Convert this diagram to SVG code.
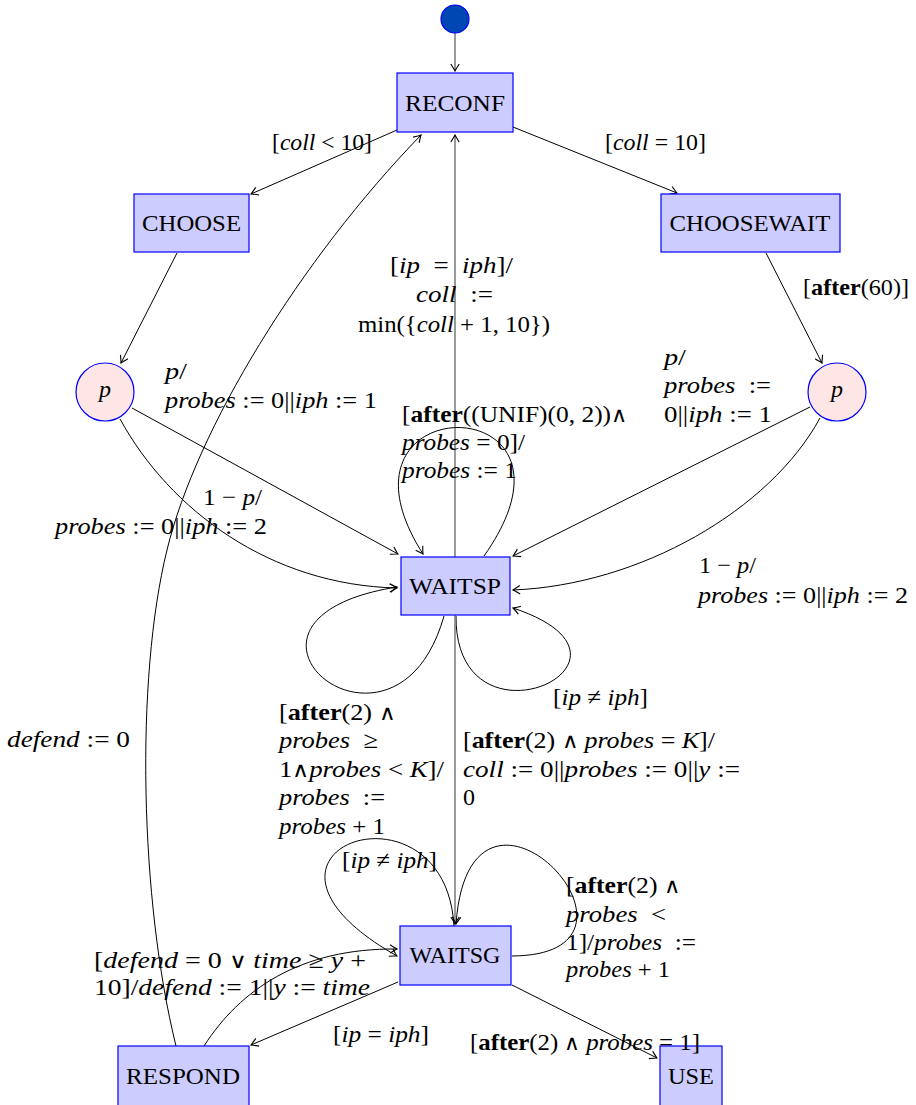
<svg xmlns="http://www.w3.org/2000/svg" width="916" height="1105" viewBox="0 0 916 1105">
<style>
.t{font-family:"Liberation Serif","DejaVu Serif",serif;font-size:24px;fill:#000}
.m{text-anchor:middle}
.i{font-style:italic}
.b{font-weight:bold}
.o{font-family:"DejaVu Sans",sans-serif;font-weight:200;font-size:21px}
.st rect{fill:#ccccff;stroke:#0000ff;stroke-width:1.2}
.ch circle{fill:#ffe6e6;stroke:#0000ff;stroke-width:1.2}
.e{fill:none;stroke:#000;stroke-width:1;marker-end:url(#arr)}
.g{fill:none;stroke:#808080;stroke-width:1.6;marker-end:url(#arr)}
</style>
<defs>
<marker id="arr" viewBox="-8 -6 10 12" refX="0" refY="0" markerWidth="10" markerHeight="12" orient="auto" markerUnits="userSpaceOnUse">
<path d="M-7,-4.2 Q-2,-1 0,0 Q-2,1 -7,4.2" fill="none" stroke="#000" stroke-width="1.1"/>
</marker>
</defs>
<rect width="916" height="1105" fill="#fff"/>
<g id="connectors">
<path class="g" d="M455,33 L455,71"/>
<path class="e" d="M397,130 L251,194"/>
<path class="e" d="M513,127 L677,193"/>
<path class="e" d="M177,253 L121,363"/>
<path class="e" d="M766,253 L822,363"/>
<path class="e" d="M132,408 L398,554"/>
<path class="e" d="M120,419 C170,510 270,585 397,588"/>
<path class="e" d="M810,407 L513,556"/>
<path class="e" d="M820,418 C770,510 640,585 513,590"/>
<path class="g" d="M455,557 L455,135"/>
<path class="e" d="M484,556 C605,385 315,385 423,554"/>
<path class="e" d="M444,616 C395,790 190,620 397,587"/>
<path class="e" d="M456,616 C455,760 670,660 513,608"/>
<path class="g" d="M455,615 L455,924"/>
<path class="e" d="M454,926 C445,770 210,850 397,956"/>
<path class="e" d="M512,956 C680,955 470,730 456,924"/>
<path class="e" d="M398,982 L251,1045"/>
<path class="e" d="M512,985 L657,1058"/>
<path class="e" d="M204,1046 C240,990 300,948 397,949"/>
<path class="e" d="M176,1046 C140,900 135,680 167,550 C196,430 300,260 421,135"/>
</g>
<g id="init"><circle cx="455" cy="19" r="14" fill="#0047b3" stroke="#0000ff" stroke-width="1.2"/></g>
<g id="RECONF" class="st"><rect x="397" y="73" width="116" height="59"/><text class="t m" x="455" y="111" textLength="100" lengthAdjust="spacingAndGlyphs">RECONF</text></g>
<g id="CHOOSE" class="st"><rect x="134" y="194" width="115" height="58"/><text class="t m" x="191.5" y="231" textLength="99" lengthAdjust="spacingAndGlyphs">CHOOSE</text></g>
<g id="CHOOSEWAIT" class="st"><rect x="661" y="194" width="179" height="58"/><text class="t m" x="750" y="231" textLength="161" lengthAdjust="spacingAndGlyphs">CHOOSEWAIT</text></g>
<g id="pL" class="ch"><circle cx="105" cy="392" r="29"/><text class="t m i" x="105" y="397">p</text></g>
<g id="pR" class="ch"><circle cx="837" cy="392" r="29"/><text class="t m i" x="837" y="397">p</text></g>
<g id="WAITSP" class="st"><rect x="401" y="557" width="109" height="58"/><text class="t m" x="455" y="594" textLength="92" lengthAdjust="spacingAndGlyphs">WAITSP</text></g>
<g id="WAITSG" class="st"><rect x="400" y="926" width="111" height="59"/><text class="t m" x="455" y="963" textLength="91" lengthAdjust="spacingAndGlyphs">WAITSG</text></g>
<g id="RESPOND" class="st"><rect x="118" y="1046" width="131" height="60"/><text class="t m" x="183" y="1084" textLength="114" lengthAdjust="spacingAndGlyphs">RESPOND</text></g>
<g id="USE" class="st"><rect x="660" y="1046" width="62" height="60"/><text class="t m" x="691" y="1084" textLength="46" lengthAdjust="spacingAndGlyphs">USE</text></g>
<g id="labels">
<text class="t" x="272" y="150" textLength="100" lengthAdjust="spacingAndGlyphs">[<tspan class="i">coll</tspan> &lt; 10]</text>
<text class="t" x="605" y="150" textLength="101" lengthAdjust="spacingAndGlyphs">[<tspan class="i">coll</tspan> = 10]</text>
<text class="t" x="803" y="295" textLength="106" lengthAdjust="spacingAndGlyphs">[<tspan class="b">after</tspan>(60)]</text>
<text class="t" x="165" y="379" textLength="22" lengthAdjust="spacingAndGlyphs"><tspan class="i">p</tspan>/</text>
<text class="t" x="165" y="408" textLength="212" lengthAdjust="spacingAndGlyphs"><tspan class="i">probes</tspan> := 0||<tspan class="i">iph</tspan> := 1</text>
<text class="t" x="203" y="505" textLength="59" lengthAdjust="spacingAndGlyphs">1 − <tspan class="i">p</tspan>/</text>
<text class="t" x="55" y="534" textLength="212" lengthAdjust="spacingAndGlyphs"><tspan class="i">probes</tspan> := 0||<tspan class="i">iph</tspan> := 2</text>
<text class="t" x="664" y="365" textLength="22" lengthAdjust="spacingAndGlyphs"><tspan class="i">p</tspan>/</text>
<text class="t" x="664" y="393" xml:space="preserve" textLength="107" lengthAdjust="spacingAndGlyphs"><tspan class="i">probes</tspan>  :=</text>
<text class="t" x="664" y="422" textLength="108" lengthAdjust="spacingAndGlyphs">0||<tspan class="i">iph</tspan> := 1</text>
<text class="t" x="699" y="573" textLength="57" lengthAdjust="spacingAndGlyphs">1 − <tspan class="i">p</tspan>/</text>
<text class="t" x="698" y="603" textLength="210" lengthAdjust="spacingAndGlyphs"><tspan class="i">probes</tspan> := 0||<tspan class="i">iph</tspan> := 2</text>
<text class="t" x="390" y="273" xml:space="preserve" textLength="123" lengthAdjust="spacingAndGlyphs">[<tspan class="i">ip</tspan>  =  <tspan class="i">iph</tspan>]/</text>
<text class="t" x="416" y="302" xml:space="preserve" textLength="77" lengthAdjust="spacingAndGlyphs"><tspan class="i">coll</tspan>  :=</text>
<text class="t" x="358" y="332" textLength="192" lengthAdjust="spacingAndGlyphs">min({<tspan class="i">coll</tspan> + 1, 10})</text>
<text class="t" x="402" y="422" textLength="225" lengthAdjust="spacingAndGlyphs">[<tspan class="b">after</tspan>((UNIF)(0, 2))<tspan class="o">∧</tspan></text>
<text class="t" x="402" y="450" textLength="123" lengthAdjust="spacingAndGlyphs"><tspan class="i">probes</tspan> = 0]/</text>
<text class="t" x="402" y="478" textLength="115" lengthAdjust="spacingAndGlyphs"><tspan class="i">probes</tspan> := 1</text>
<text class="t" x="553" y="705" textLength="95" lengthAdjust="spacingAndGlyphs">[<tspan class="i">ip</tspan> ≠ <tspan class="i">iph</tspan>]</text>
<text class="t" x="279" y="720" textLength="116" lengthAdjust="spacingAndGlyphs">[<tspan class="b">after</tspan>(2) <tspan class="o">∧</tspan></text>
<text class="t" x="279" y="748" xml:space="preserve" textLength="99" lengthAdjust="spacingAndGlyphs"><tspan class="i">probes</tspan>  ≥</text>
<text class="t" x="279" y="777" textLength="165" lengthAdjust="spacingAndGlyphs">1<tspan class="o">∧</tspan><tspan class="i">probes</tspan> &lt; <tspan class="i">K</tspan>]/</text>
<text class="t" x="279" y="805" xml:space="preserve" textLength="106" lengthAdjust="spacingAndGlyphs"><tspan class="i">probes</tspan>  :=</text>
<text class="t" x="279" y="834" textLength="106" lengthAdjust="spacingAndGlyphs"><tspan class="i">probes</tspan> + 1</text>
<text class="t" x="463" y="748" textLength="252" lengthAdjust="spacingAndGlyphs">[<tspan class="b">after</tspan>(2) <tspan class="o">∧</tspan> <tspan class="i">probes</tspan> = <tspan class="i">K</tspan>]/</text>
<text class="t" x="463" y="777" textLength="277" lengthAdjust="spacingAndGlyphs"><tspan class="i">coll</tspan> := 0||<tspan class="i">probes</tspan> := 0||<tspan class="i">y</tspan> :=</text>
<text class="t" x="463" y="805">0</text>
<text class="t" x="342" y="868" textLength="95" lengthAdjust="spacingAndGlyphs">[<tspan class="i">ip</tspan> ≠ <tspan class="i">iph</tspan>]</text>
<text class="t" x="566" y="893" textLength="114" lengthAdjust="spacingAndGlyphs">[<tspan class="b">after</tspan>(2) <tspan class="o">∧</tspan></text>
<text class="t" x="566" y="922" xml:space="preserve" textLength="100" lengthAdjust="spacingAndGlyphs"><tspan class="i">probes</tspan>  &lt;</text>
<text class="t" x="566" y="950" xml:space="preserve" textLength="130" lengthAdjust="spacingAndGlyphs">1]/<tspan class="i">probes</tspan>  :=</text>
<text class="t" x="566" y="977" textLength="104" lengthAdjust="spacingAndGlyphs"><tspan class="i">probes</tspan> + 1</text>
<text class="t" x="94" y="968" textLength="272" lengthAdjust="spacingAndGlyphs">[<tspan class="i">defend</tspan> = 0 <tspan class="o">∨</tspan> <tspan class="i">time</tspan> ≥ <tspan class="i">y</tspan> +</text>
<text class="t" x="94" y="995" textLength="276" lengthAdjust="spacingAndGlyphs">10]/<tspan class="i">defend</tspan> := 1||<tspan class="i">y</tspan> := <tspan class="i">time</tspan></text>
<text class="t" x="333" y="1042" textLength="96" lengthAdjust="spacingAndGlyphs">[<tspan class="i">ip</tspan> = <tspan class="i">iph</tspan>]</text>
<text class="t" x="470" y="1050" textLength="230" lengthAdjust="spacingAndGlyphs">[<tspan class="b">after</tspan>(2) <tspan class="o">∧</tspan> <tspan class="i">probes</tspan> = 1]</text>
<text class="t" x="7" y="747" textLength="123" lengthAdjust="spacingAndGlyphs"><tspan class="i">defend</tspan> := 0</text>
</g>
</svg>
